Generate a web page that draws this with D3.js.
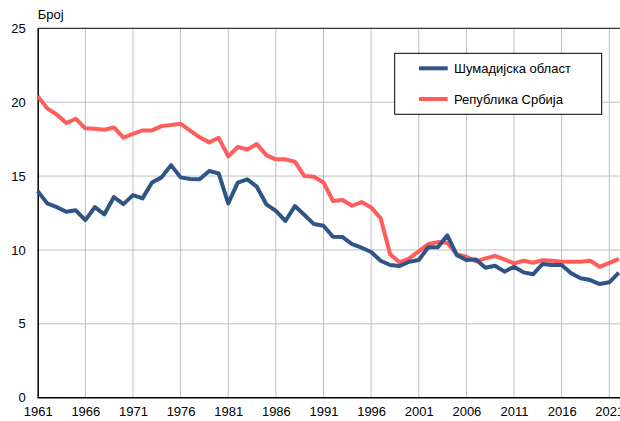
<!DOCTYPE html>
<html>
<head>
<meta charset="utf-8">
<script src="https://cdn.jsdelivr.net/npm/d3@7"></script>
<style>
  body { margin: 0; background: #fff; }
  svg { display: block; font-family: "Liberation Sans", Arial, sans-serif; }
</style>
</head>
<body>
<div id="chart"></div>
<script>
const years = d3.range(1961, 2023);

const sumadija = [
  13.98, 13.15, 12.9, 12.58, 12.68, 12.02, 12.9, 12.41, 13.58, 13.1,
  13.71, 13.49, 14.57, 14.91, 15.74, 14.91, 14.8, 14.78, 15.34, 15.18,
  13.15, 14.55, 14.78, 14.28, 13.09, 12.65, 11.96, 12.97, 12.36, 11.75,
  11.64, 10.89, 10.87, 10.4, 10.15, 9.86, 9.27, 8.98, 8.91, 9.2,
  9.32, 10.18, 10.18, 10.99, 9.65, 9.32, 9.36, 8.8, 8.93, 8.53,
  8.86, 8.48, 8.35, 9.05, 8.98, 8.98, 8.42, 8.08, 7.96, 7.69,
  7.81, 8.46
];

const srbija = [
  20.41, 19.58, 19.17, 18.59, 18.88, 18.23, 18.2, 18.13, 18.29, 17.6,
  17.86, 18.09, 18.09, 18.38, 18.45, 18.54, 18.07, 17.62, 17.28, 17.59,
  16.33, 16.98, 16.8, 17.17, 16.42, 16.13, 16.13, 15.97, 15.0, 14.95,
  14.57, 13.31, 13.38, 12.99, 13.24, 12.88, 12.14, 9.7, 9.16, 9.43,
  9.9, 10.4, 10.53, 10.49, 9.7, 9.54, 9.23, 9.43, 9.59, 9.36,
  9.09, 9.27, 9.13, 9.3, 9.27, 9.2, 9.2, 9.2, 9.27, 8.86,
  9.13, 9.4
];

const seriesNames = ["Шумадијска област", "Република Србија"];
const seriesColors = ["#2f5486", "#ff5c5c"];
const xTicks = d3.range(1961, 2022, 5);
const yTicks = [0, 5, 10, 15, 20, 25];
const yLabel = "Број";

const width = 620;
const height = 421;
const margin = {top: 28.3, right: 1.2, bottom: 23.3, left: 37.7};

const svg = d3.select("#chart")
  .append("svg")
  .attr("width", width)
  .attr("height", height);

const x = d3.scaleLinear()
  .domain([1961, 2022])
  .range([margin.left, width - margin.right]);

const y = d3.scaleLinear()
  .domain([0, 25])
  .range([height - margin.bottom, margin.top]);

// grid
svg.append("g")
  .selectAll("line")
  .data(xTicks.slice(1))
  .join("line")
    .attr("x1", d => x(d)).attr("x2", d => x(d))
    .attr("y1", y(25)).attr("y2", y(0))
    .attr("stroke", "#bfbfbf")
    .attr("stroke-width", 1);

svg.append("g")
  .selectAll("line")
  .data(yTicks.slice(1, -1))
  .join("line")
    .attr("x1", x(1961)).attr("x2", width + 10)
    .attr("y1", d => y(d)).attr("y2", d => y(d))
    .attr("stroke", "#bfbfbf")
    .attr("stroke-width", 1);

// frame: top, left, bottom
svg.append("line")
  .attr("x1", x(1961)).attr("x2", width + 10)
  .attr("y1", y(25)).attr("y2", y(25))
  .attr("stroke", "#000").attr("stroke-width", 1);

// axes
const xAxis = svg.append("g")
  .attr("transform", `translate(0,${y(0)})`)
  .call(d3.axisBottom(x).tickValues(xTicks).tickFormat(d3.format("d")).tickSize(0).tickPadding(9));
xAxis.select(".domain").attr("stroke", "#000").attr("stroke-width", 1.5)
  .attr("d", `M${x(1961)},0H${width + 10}`);
xAxis.selectAll("text").attr("font-size", 13).attr("fill", "#000");

const yAxis = svg.append("g")
  .attr("transform", `translate(${x(1961)},0)`)
  .call(d3.axisLeft(y).tickValues(yTicks).tickSize(0).tickPadding(12));
yAxis.select(".domain").attr("stroke", "#000").attr("stroke-width", 1.5);
yAxis.selectAll("text").attr("font-size", 13).attr("fill", "#000");

svg.append("text")
  .attr("x", x(1961))
  .attr("y", 19)
  .attr("font-size", 13)
  .attr("fill", "#000")
  .text(yLabel);

// lines
const line = d3.line()
  .x((d, i) => x(years[i]))
  .y(d => y(d));

[srbija, sumadija].forEach((vals, k) => {
  svg.append("path")
    .datum(vals)
    .attr("fill", "none")
    .attr("stroke", seriesColors[1 - k])
    .attr("stroke-width", 4)
    .attr("stroke-linejoin", "round")
    .attr("d", line);
});

// legend
const legend = svg.append("g").attr("transform", "translate(394.7,53.3)");
legend.append("rect")
  .attr("width", 207).attr("height", 61)
  .attr("fill", "#fff").attr("stroke", "#000").attr("stroke-width", 1);

seriesNames.forEach((name, i) => {
  const g = legend.append("g").attr("transform", `translate(0,${15 + i * 30.7})`);
  g.append("line")
    .attr("x1", 24.3).attr("x2", 53)
    .attr("stroke", seriesColors[i]).attr("stroke-width", 4);
  g.append("text")
    .attr("x", 59.3).attr("y", 0)
    .attr("dy", "0.35em")
    .attr("font-size", 13)
    .attr("fill", "#000")
    .text(name);
});
</script>
</body>
</html>
